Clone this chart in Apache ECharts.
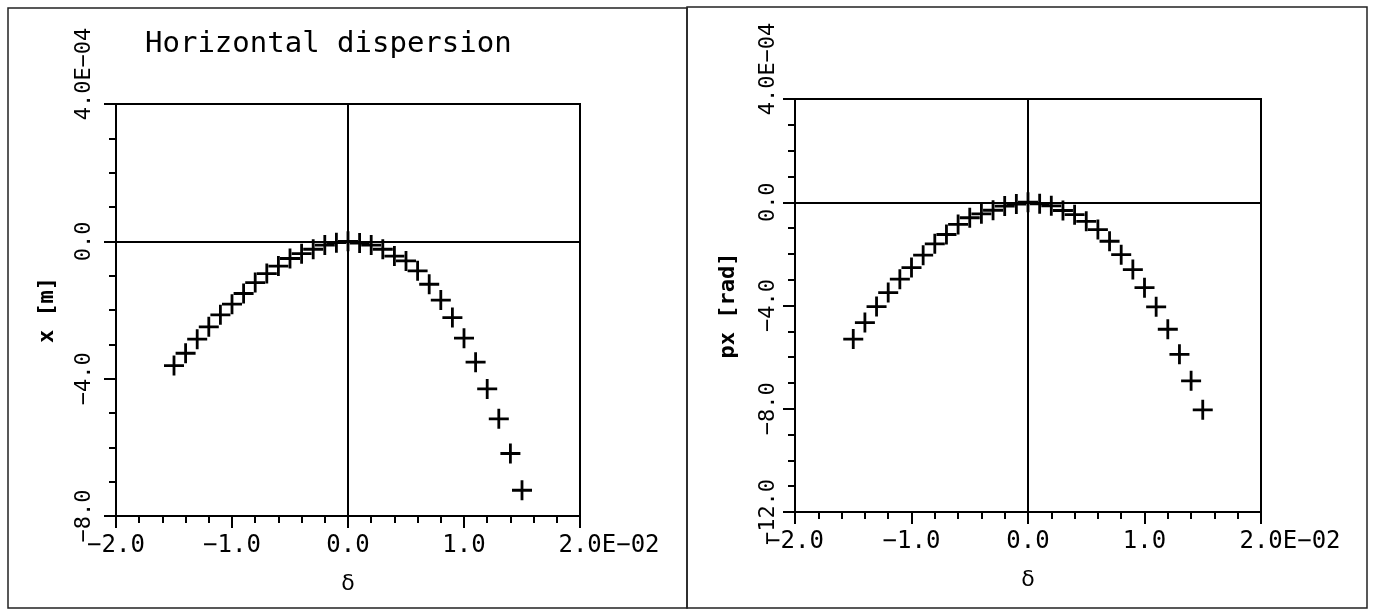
<!DOCTYPE html>
<html>
<head>
<meta charset="utf-8">
<script src="https://cdn.jsdelivr.net/npm/echarts@6/dist/echarts.min.js"></script>
<style>
html,body{margin:0;padding:0;background:#fff;}
#c{width:1382px;height:613px;}
</style>
</head>
<body>
<div id="c"></div>
<script>
// δ values (axis unit 1E-02)
const delta = [-1.5,-1.4,-1.3,-1.2,-1.1,-1.0,-0.9,-0.8,-0.7,-0.6,-0.5,-0.4,-0.3,-0.2,-0.1,0.0,
               0.1,0.2,0.3,0.4,0.5,0.6,0.7,0.8,0.9,1.0,1.1,1.2,1.3,1.4,1.5];
// x [m] (axis unit 1E-04)
const xDisp = [-3.62,-3.26,-2.85,-2.49,-2.14,-1.83,-1.52,-1.20,-0.94,-0.72,-0.50,-0.36,-0.23,-0.11,-0.04,0.00,
               -0.05,-0.11,-0.23,-0.43,-0.57,-0.86,-1.25,-1.71,-2.22,-2.82,-3.52,-4.30,-5.17,-6.18,-7.25];
// px [rad] (axis unit 1E-04)
const pxDisp = [-5.30,-4.66,-4.04,-3.50,-2.98,-2.53,-2.05,-1.61,-1.25,-0.86,-0.60,-0.45,-0.31,-0.15,-0.07,0.00,
                -0.06,-0.14,-0.32,-0.48,-0.74,-1.06,-1.51,-2.03,-2.61,-3.31,-4.05,-4.92,-5.89,-6.92,-8.04];

// tick labels
const deltaTicks = [-2,-1,0,1,2];
const deltaTickLabels = ['\u22122.0','\u22121.0','0.0','1.0','2.0E\u221202'];
const xTicks = [-8,-4,0,4];
const xTickLabels = ['\u22128.0','\u22124.0','0.0','4.0E\u221204'];
const pxTicks = [-12,-8,-4,0,4];
const pxTickLabels = ['\u221212.0','\u22128.0','\u22124.0','0.0','4.0E\u221204'];

const titleText = 'Horizontal dispersion';

const MONO = '"DejaVu Sans Mono", monospace';
const PLUS = 'path://M-1.4,-10H1.4V-1.4H10V1.4H1.4V10H-1.4V1.4H-10V-1.4H-1.4Z';

function lookup(ticks, labels, v) {
  for (let i = 0; i < ticks.length; i++) if (Math.abs(ticks[i] - v) < 1e-9) return labels[i];
  return '';
}
function mk(ticks, labels) {
  return function (v) {
    const s = lookup(ticks, labels, v);
    return s.indexOf('E') >= 0 ? '{pad| }{t|' + s + '}' : s;
  };
}

function xAxisCfg(gi) {
  return {
    gridIndex: gi, type: 'value', min: -2, max: 2, interval: 1, position: 'bottom',
    axisLine: {show: true, onZero: false, lineStyle: {color: '#000', width: 2}},
    axisTick: {show: true, length: 12, lineStyle: {color: '#000', width: 2}},
    minorTick: {show: true, splitNumber: 5, length: 7, lineStyle: {color: '#000', width: 2}},
    splitLine: {show: false}, minorSplitLine: {show: false},
    axisLabel: {
      margin: 18, fontFamily: MONO, fontSize: 24, color: '#000',
      showMinLabel: true, showMaxLabel: true,
      formatter: mk(deltaTicks, deltaTickLabels),
      rich: {
        pad: {width: 58, fontFamily: MONO, fontSize: 24},
        t: {fontFamily: MONO, fontSize: 24, color: '#000'}
      }
    },
    name: 'δ', nameLocation: 'middle', nameGap: 57, nameMoveOverlap: false,
    nameTextStyle: {fontFamily: '"DejaVu Sans", sans-serif', fontSize: 22, color: '#000'}
  };
}
function yAxisCfg(gi, min, ticks, labels, name, margin, nameGap) {
  return {
    gridIndex: gi, type: 'value', min: min, max: 4, interval: 4, position: 'left',
    axisLine: {show: true, onZero: false, lineStyle: {color: '#000', width: 2}},
    axisTick: {show: true, length: 12, lineStyle: {color: '#000', width: 2}},
    minorTick: {show: true, splitNumber: 4, length: 7, lineStyle: {color: '#000', width: 2}},
    splitLine: {show: false}, minorSplitLine: {show: false},
    axisLabel: {
      rotate: 90, margin: margin, fontFamily: MONO, fontSize: 22, color: '#000',
      showMinLabel: true, showMaxLabel: true,
      formatter: mk(ticks, labels),
      rich: {
        pad: {width: 60, fontFamily: MONO, fontSize: 22},
        t: {fontFamily: MONO, fontSize: 22, color: '#000'}
      }
    },
    name: name, nameLocation: 'middle', nameGap: nameGap, nameMoveOverlap: false,
    nameTextStyle: {fontFamily: MONO, fontWeight: 'bold', fontSize: 22, color: '#000'}
  };
}
function seriesCfg(gi, ys) {
  return {
    type: 'scatter', xAxisIndex: gi, yAxisIndex: gi,
    data: delta.map((d, i) => [d, ys[i]]),
    symbol: PLUS, symbolSize: 20,
    itemStyle: {color: '#000', opacity: 1},
    emphasis: {disabled: true},
    markLine: {
      silent: true, symbol: 'none', animation: false,
      label: {show: false},
      lineStyle: {color: '#000', width: 2, type: 'solid'},
      emphasis: {disabled: true},
      data: [{xAxis: 0}, {yAxis: 0}]
    }
  };
}

const chart = echarts.init(document.getElementById('c'), null, {renderer: 'canvas'});
chart.setOption({
  animation: false,
  backgroundColor: '#fff',
  title: {
    text: titleText, left: 140, top: 25,
    textStyle: {fontFamily: MONO, fontSize: 29, fontWeight: 'normal', color: '#000'}
  },
  graphic: [
    {type: 'rect', silent: true, z: -10, shape: {x: 8, y: 8, width: 679, height: 600},
     style: {fill: 'none', stroke: '#222', lineWidth: 1.5}},
    {type: 'rect', silent: true, z: -10, shape: {x: 687, y: 7, width: 680, height: 601},
     style: {fill: 'none', stroke: '#222', lineWidth: 1.5}}
  ],
  grid: [
    {left: 116, top: 104, width: 464, height: 412, show: true, borderColor: '#000', borderWidth: 2,
     backgroundColor: 'transparent', outerBoundsMode: 'none'},
    {left: 795, top: 99, width: 466, height: 413, show: true, borderColor: '#000', borderWidth: 2,
     backgroundColor: 'transparent', outerBoundsMode: 'none'}
  ],
  xAxis: [xAxisCfg(0), xAxisCfg(1)],
  yAxis: [
    yAxisCfg(0, -8, xTicks, xTickLabels, 'x [m]', 21, 58),
    yAxisCfg(1, -12, pxTicks, pxTickLabels, 'px [rad]', 16, 56)
  ],
  series: [seriesCfg(0, xDisp), seriesCfg(1, pxDisp)]
});
</script>
</body>
</html>
